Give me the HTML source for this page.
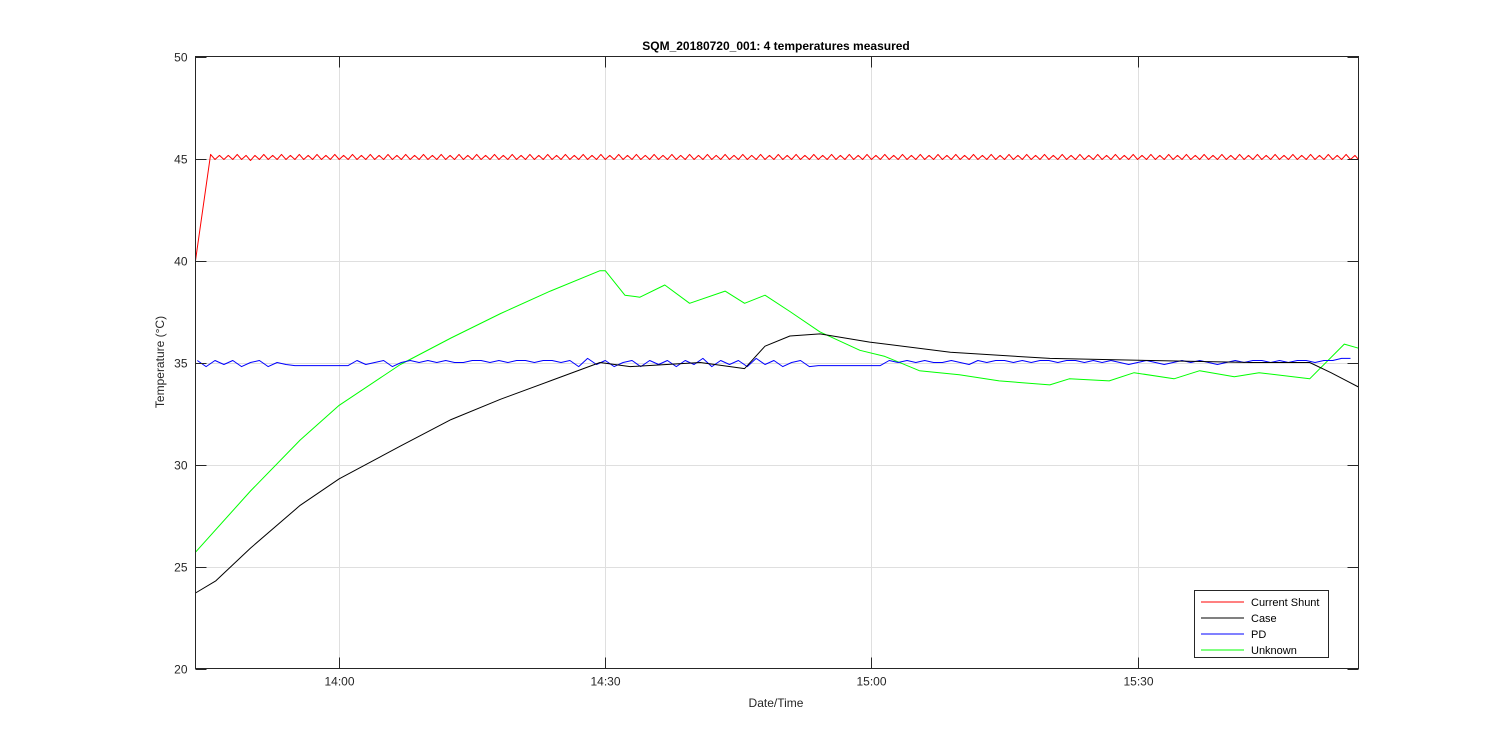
<!DOCTYPE html>
<html><head><meta charset="utf-8"><style>
body{margin:0;background:#fff;width:1500px;height:750px;overflow:hidden;font-family:"Liberation Sans",sans-serif}
</style></head><body>
<svg id="chart" width="1500" height="750" xmlns="http://www.w3.org/2000/svg" font-family="Liberation Sans, sans-serif">
<rect width="1500" height="750" fill="#fff"/>
<g id="grid"></g>
<g id="series"></g>
<rect x="195.5" y="56.5" width="1163" height="612" fill="none" stroke="#262626" stroke-width="1"/>
<g id="ticks"></g>
<text x="776" y="50" text-anchor="middle" font-size="12" font-weight="bold" fill="#000">SQM_20180720_001: 4 temperatures measured</text>
<text x="776" y="707" text-anchor="middle" font-size="12" fill="#262626">Date/Time</text>
<text transform="translate(164,362) rotate(-90)" text-anchor="middle" font-size="12" fill="#262626">Temperature (°C)</text>
<g>
<rect x="1194.5" y="590.5" width="134" height="67" fill="#fff" stroke="#262626"/>
<line x1="1201" y1="602" x2="1244" y2="602" stroke="#f00"/><text x="1251" y="606" font-size="11" fill="#000">Current Shunt</text>
<line x1="1201" y1="618" x2="1244" y2="618" stroke="#000"/><text x="1251" y="622" font-size="11" fill="#000">Case</text>
<line x1="1201" y1="634" x2="1244" y2="634" stroke="#00f"/><text x="1251" y="638" font-size="11" fill="#000">PD</text>
<line x1="1201" y1="650" x2="1244" y2="650" stroke="#0f0"/><text x="1251" y="654" font-size="11" fill="#000">Unknown</text>
</g>
</svg>
<script>
// minutes past 13:00
const xTicks=[60,90,120,150];
const xTickLabels=["14:00","14:30","15:00","15:30"];
const yTicks=[20,25,30,35,40,45,50];
const greenT=[43.8,50,55.6,60,66.9,72.6,78.2,83.8,89.4,90,92.2,93.9,96.7,99.5,103.5,105.7,108,110.8,114.2,118.7,121.5,125.4,129.9,134.4,140.1,142.3,146.8,149.6,154.1,157,160.9,163.7,169.4,173.3,174.9];
const greenV=[25.7,28.7,31.2,32.9,34.9,36.2,37.4,38.5,39.5,39.5,38.3,38.2,38.8,37.9,38.5,37.9,38.3,37.5,36.5,35.6,35.3,34.6,34.4,34.1,33.9,34.2,34.1,34.5,34.2,34.6,34.3,34.5,34.2,35.9,35.7];
const blackT=[43.8,46.1,50,55.6,60,66.9,72.6,78.2,83.8,89.4,92.8,100.7,105.7,108,110.8,114.2,119.8,128.9,140.1,151.5,162.8,169.4,171.8,174.9];
const blackV=[23.7,24.3,25.9,28.0,29.3,30.9,32.2,33.2,34.1,35.0,34.8,35.0,34.7,35.8,36.3,36.4,36.0,35.5,35.2,35.1,35.0,35.0,34.5,33.8];
const blueStart=44, blueStep=1;
const blueV=[35.1,34.8,35.1,34.9,35.1,34.8,35.0,35.1,34.8,35.0,34.9,34.85,34.85,34.85,34.85,34.85,34.85,34.85,35.1,34.9,35.0,35.1,34.8,35.0,35.1,35.0,35.1,35.0,35.1,35.0,35.0,35.1,35.1,35.0,35.1,35.0,35.1,35.1,35.0,35.1,35.1,35.0,35.1,34.8,35.2,34.9,35.1,34.8,35.0,35.1,34.8,35.1,34.9,35.1,34.8,35.1,34.9,35.2,34.8,35.1,34.9,35.1,34.8,35.2,34.9,35.1,34.8,35.0,35.1,34.8,34.85,34.85,34.85,34.85,34.85,34.85,34.85,34.85,35.1,35.0,35.1,35.0,35.1,35.0,35.0,35.1,35.0,34.9,35.1,35.0,35.1,35.1,35.0,35.1,35.0,35.1,35.1,35.0,35.1,35.1,35.0,35.1,35.0,35.1,35.0,34.9,35.0,35.1,35.0,34.9,35.0,35.1,35.0,35.1,35.0,34.9,35.0,35.1,35.0,35.1,35.1,35.0,35.1,35.0,35.1,35.1,35.0,35.1,35.1,35.2,35.2];
const redT0=[43.8,45.5];
const redV0=[40.0,45.2];
const redStart=46, redStep=0.5;
const redV=[44.95,45.15,44.95,45.15,44.95,45.2,44.95,45.15,44.9,45.15,44.95,45.2,44.95,45.15,44.95,45.2,44.95,45.15,44.95,45.2,44.95,45.15,44.95,45.2,44.95,45.15,44.95,45.2,44.95,45.15,44.95,45.2,44.95,45.15,44.95,45.2,44.95,45.15,44.95,45.2,44.95,45.15,44.95,45.2,44.95,45.15,44.95,45.2,44.95,45.15,44.95,45.2,44.95,45.15,44.95,45.2,44.95,45.15,44.95,45.2,44.95,45.15,44.95,45.2,44.95,45.15,44.95,45.2,44.95,45.15,44.95,45.2,44.95,45.15,44.95,45.2,44.95,45.15,44.95,45.2,44.95,45.15,44.95,45.2,44.95,45.15,44.95,45.2,44.95,45.15,44.95,45.2,44.95,45.15,44.95,45.2,44.95,45.15,44.95,45.2,44.95,45.15,44.95,45.2,44.95,45.15,44.95,45.2,44.95,45.15,44.95,45.2,44.95,45.15,44.95,45.2,44.95,45.15,44.95,45.2,44.95,45.15,44.95,45.2,44.95,45.15,44.95,45.2,44.95,45.15,44.95,45.2,44.95,45.15,44.95,45.2,44.95,45.15,44.95,45.2,44.95,45.15,44.95,45.2,44.95,45.15,44.95,45.2,44.95,45.15,44.95,45.2,44.95,45.15,44.95,45.2,44.95,45.15,44.95,45.2,44.95,45.15,44.95,45.2,44.95,45.15,44.95,45.2,44.95,45.15,44.95,45.2,44.95,45.15,44.95,45.2,44.95,45.15,44.95,45.2,44.95,45.15,44.95,45.2,44.95,45.15,44.95,45.2,44.95,45.15,44.95,45.2,44.95,45.15,44.95,45.2,44.95,45.15,44.95,45.2,44.95,45.15,44.95,45.2,44.95,45.15,44.95,45.2,44.95,45.15,44.95,45.2,44.95,45.15,44.95,45.2,44.95,45.15,44.95,45.2,44.95,45.15,44.95,45.2,44.95,45.15,44.95,45.2,44.95,45.15,44.95,45.2,44.95,45.15,44.95,45.2,44.95,45.15,44.95,45.2,44.95,45.15,44.95,45.2,44.95,45.15,44.95,45.2,44.95,45.15,44.95,45.2,44.95,45.15,44.95,45.2,44.95,45.15,44.95,45.2,44.95,45.15,44.95,45.2,44.95,45.2,44.9,45.15,44.95,45.2,44.95,45.15,44.95,45.2,44.3];

const X0=195.5,X1=1358.5,Y0=668.5,Y1=56.5,TMIN=43.8,TMAX=174.9;
const sx=t=>X0+(t-TMIN)/(TMAX-TMIN)*(X1-X0);
const sy=v=>Y0-(v-20)/30*(Y0-Y1);
const NS="http://www.w3.org/2000/svg";
function mk(tag,attrs,parent){const e=document.createElementNS(NS,tag);for(const k in attrs)e.setAttribute(k,attrs[k]);parent.appendChild(e);return e;}
const grid=document.getElementById('grid'),ticks=document.getElementById('ticks'),series=document.getElementById('series');
xTicks.forEach((t,i)=>{const x=Math.round(sx(t))+0.5;
 const g=mk('line',{x1:x,x2:x,y1:Y1,y2:Y0,stroke:'#dfdfdf'},grid);
 
 
 mk('line',{x1:x,x2:x,y1:Y0,y2:Y0-11,stroke:'#262626'},ticks);
 mk('line',{x1:x,x2:x,y1:Y1,y2:Y1+11,stroke:'#262626'},ticks);
 const tx=mk('text',{x:x,y:Y0+17,'text-anchor':'middle','font-size':12,fill:'#262626'},ticks);
 tx.textContent=xTickLabels[i];
 
 
});
yTicks.forEach(v=>{const y=Math.round(sy(v))+0.5;
 if(v>20&&v<50){const g=mk('line',{x1:X0,x2:X1,y1:y,y2:y,stroke:'#dfdfdf'},grid);
 
 }
 mk('line',{x1:X0,x2:X0+11,y1:y,y2:y,stroke:'#262626'},ticks);
 mk('line',{x1:X1,x2:X1-11,y1:y,y2:y,stroke:'#262626'},ticks);
 const tx=mk('text',{x:X0-8,y:y+4,'text-anchor':'end','font-size':12,fill:'#262626'},ticks);
 tx.textContent=v;
 
 
});
function line(ts,vs,color,name){
 const d=ts.map((t,i)=>(i?'L':'M')+sx(t).toFixed(1)+','+sy(vs[i]).toFixed(1)).join('');
 const p=mk('path',{d:d,fill:'none',stroke:color,'stroke-width':1,'stroke-linejoin':'round'},series);
 
 
}
const blueT=blueV.map((v,i)=>Math.min(TMAX,blueStart+i*blueStep));
const redT=redT0.concat(redV.map((v,i)=>Math.min(TMAX,redStart+i*redStep)));
const redAll=redV0.concat(redV);
line(greenT,greenV,'#00ff00','unknown-line');
line(blueT,blueV,'#0000ff','pd-line');
line(blackT,blackV,'#000000','case-line');
line(redT,redAll,'#ff0000','current-shunt-line');
</script>
</body></html>
